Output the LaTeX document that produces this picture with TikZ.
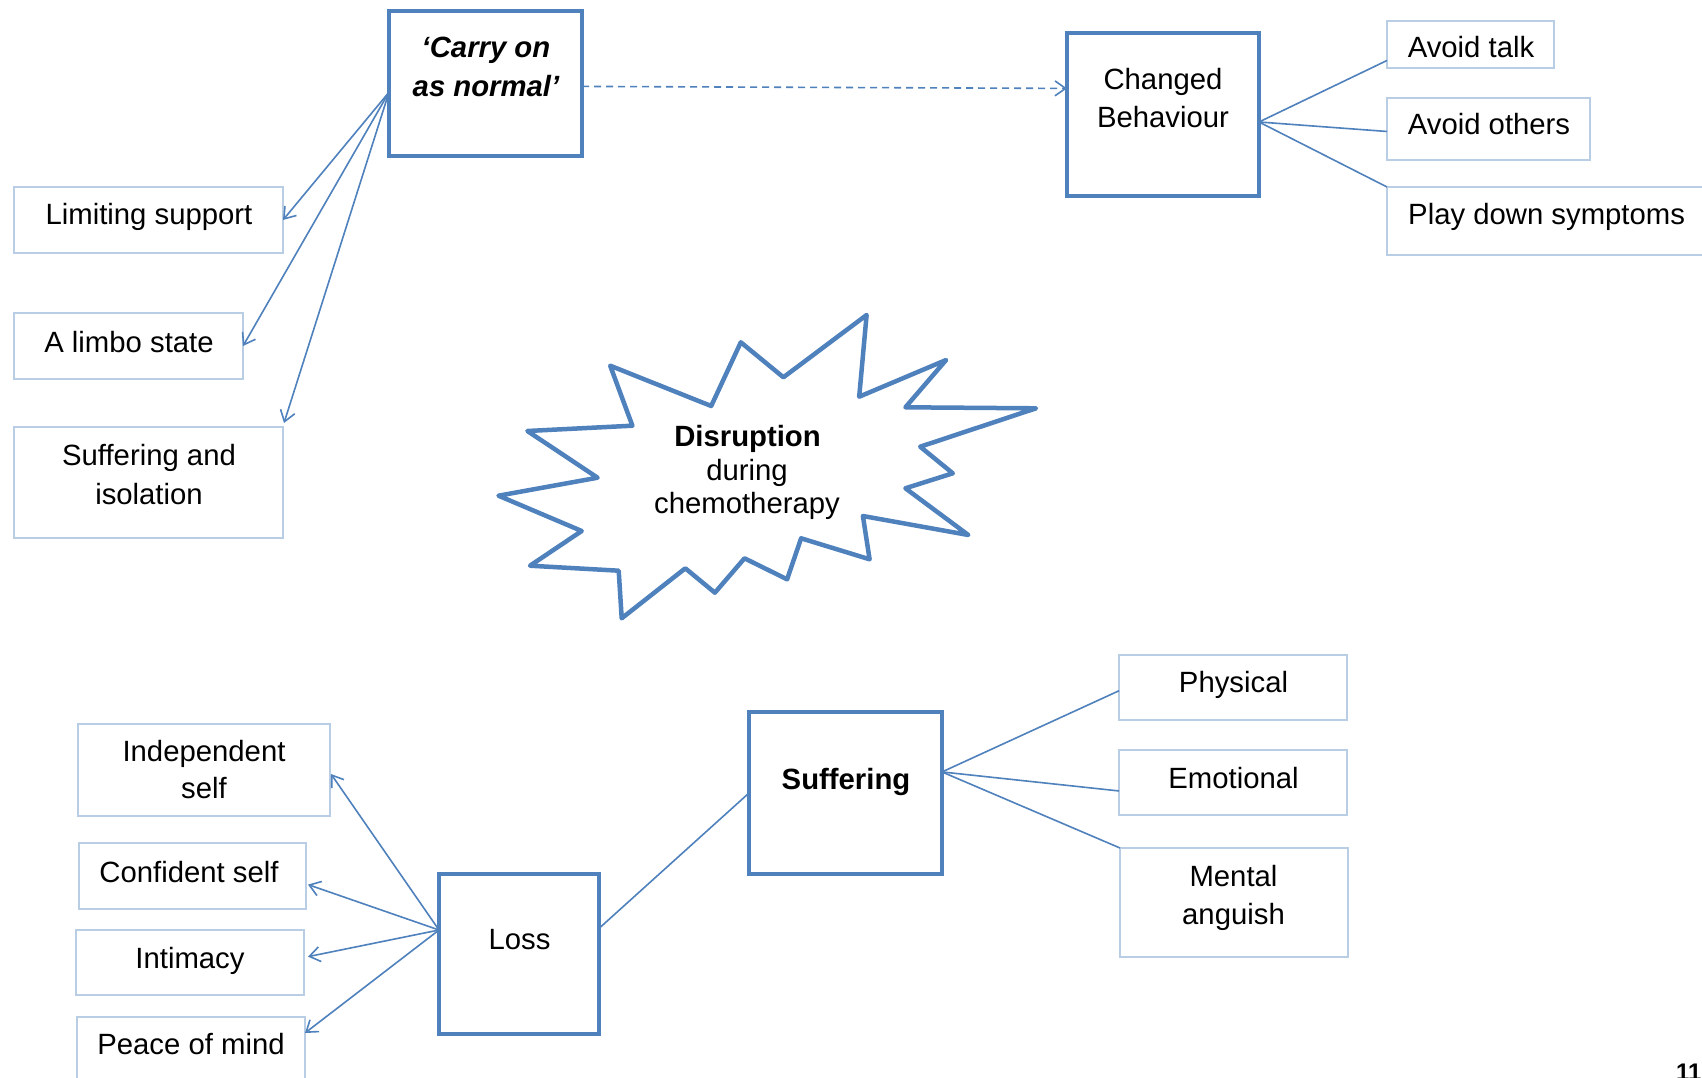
\documentclass[tikz,border=0pt]{standalone}
\usepackage{fontspec}
\setmainfont{Liberation Sans}
\usetikzlibrary{arrows.meta,calc}
\definecolor{mainblue}{HTML}{4F81BD}
\definecolor{lightblue}{HTML}{B9CDE5}
\begin{document}
\begin{tikzpicture}[x=1pt,y=-1pt,
  thickbox/.style={draw=mainblue, line width=4.5pt, rectangle, inner sep=0pt, outer sep=0pt, anchor=north west},
  thinbox/.style={draw=lightblue, line width=2pt, rectangle, inner sep=0pt, outer sep=0pt, anchor=north west},
  lbl/.style={font=\fontsize{29.3}{35}\selectfont, inner sep=0pt, anchor=base},
  conn/.style={draw=mainblue, line width=1.6pt},
  arr/.style={conn, -{Straight Barb[angle=70:13pt]}},
]
\useasboundingbox (0,0) rectangle (1702,1078);
\fill[white] (0,0) rectangle (1702,1078);
\clip (0,0) rectangle (1702,1078);

% ---------- top left ----------
\node[thickbox, minimum width=193pt, minimum height=145pt] (carry) at (389,11) {};
\node[lbl, font=\fontsize{29.3}{35}\selectfont\bfseries\itshape] (carryA) at (486,58) {‘Carry on};
\node[lbl, font=\fontsize{29.3}{35}\selectfont\bfseries\itshape] (carryB) at (486,97) {as normal’};

\node[thinbox, minimum width=269pt, minimum height=66pt] (limiting) at (14,187) {};
\node[lbl] (limitingT) at (149,225) {Limiting support};
\node[thinbox, minimum width=229pt, minimum height=66pt] (limbo) at (14,313) {};
\node[lbl] (limboT) at (129,352) {A limbo state};
\node[thinbox, minimum width=269pt, minimum height=111pt] (isolation) at (14,427) {};
\node[lbl] (isolationA) at (149,465) {Suffering and};
\node[lbl] (isolationB) at (149,504) {isolation};

\coordinate (carryL) at ($(carry.north west)!0.56!(carry.south west)$);
\draw[arr] (carryL) -- (limiting.east);
\draw[arr] (carryL) -- (limbo.east);
\draw[arr] (carryL) -- ($(isolation.north east)+(1,-4)$);

% ---------- top right ----------
\node[thickbox, minimum width=192pt, minimum height=163pt] (changed) at (1067,33) {};
\node[lbl] (changedA) at (1163,90) {Changed};
\node[lbl] (changedB) at (1163,128) {Behaviour};

\node[thinbox, minimum width=167pt, minimum height=47pt] (talk) at (1387,21) {};
\node[lbl] (talkT) at (1471,58) {Avoid talk};
\node[thinbox, minimum width=203pt, minimum height=62pt] (others) at (1387,98) {};
\node[lbl] (othersT) at (1489,135) {Avoid others};
\node[thinbox, minimum width=330pt, minimum height=68pt] (playdown) at (1387,187) {};
\node[lbl, anchor=base west] (playdownT) at (1408,224) {Play down symptoms};

\draw[conn, dashed, dash pattern=on 7pt off 5pt, -{Straight Barb[angle=70:13pt]}]
  ($(carry.north east)!0.52!(carry.south east)$) -- ($(changed.north west)!0.34!(changed.south west)$);

\coordinate (changedR) at ($(changed.north east)!0.546!(changed.south east)$);
\draw[conn] (changedR) -- ($(talk.north west)!0.84!(talk.south west)$);
\draw[conn] (changedR) -- ($(others.north west)!0.54!(others.south west)$);
\draw[conn] (changedR) -- (playdown.north west);

% ---------- starburst ----------
\draw[mainblue, line width=4.5pt, line join=round, fill=white]
  (866.6,315) -- (859.2,396.7) -- (946.1,360) -- (905.4,407.3) -- (1036,408.3)
  -- (920.2,446.7) -- (952.8,473.3) -- (905.4,488.3) -- (968.3,535) -- (862.9,516)
  -- (869.6,559.3) -- (801.1,538.3) -- (787.1,579.3) -- (744.5,558.3) -- (714.9,592.7)
  -- (685.3,568.3) -- (621.7,618.3) -- (618.7,570.7) -- (530,565.7) -- (581.7,531)
  -- (498.5,495.7) -- (597.6,477.7) -- (527.4,431) -- (632.4,425.7) -- (610.2,365.7)
  -- (711.2,406) -- (740.8,342.3) -- (783.4,377.3) -- cycle;
\node[lbl, font=\fontsize{29.3}{35}\selectfont\bfseries] (disA) at (747.5,446.5) {Disruption};
\node[lbl] (disB) at (747,480) {during};
\node[lbl] (disC) at (747,513) {chemotherapy};

% ---------- bottom left ----------
\node[thickbox, minimum width=160pt, minimum height=160pt] (loss) at (439,874) {};
\node[lbl] (lossT) at (519.5,949.5) {Loss};

\node[thinbox, minimum width=252pt, minimum height=92pt] (indep) at (78,724) {};
\node[lbl] (indepA) at (204,761) {Independent};
\node[lbl] (indepB) at (204,798.5) {self};
\node[thinbox, minimum width=227pt, minimum height=66pt] (confident) at (79,843) {};
\node[lbl] (confidentT) at (189,882) {Confident self};
\node[thinbox, minimum width=228pt, minimum height=65pt] (intimacy) at (76,930) {};
\node[lbl] (intimacyT) at (190,968) {Intimacy};
\node[thinbox, minimum width=228pt, minimum height=75pt] (peace) at (77,1017) {};
\node[lbl] (peaceT) at (191,1054.5) {Peace of mind};

\coordinate (lossL) at ($(loss.north west)!0.35!(loss.south west)$);
\draw[arr] (lossL) -- ($(indep.east)+(1,4)$);
\draw[arr] (lossL) -- ($(confident.north east)!0.63!(confident.south east)+(2,0)$);
\draw[arr] (lossL) -- ($(intimacy.north east)!0.41!(intimacy.south east)+(4,0)$);
\draw[arr] (lossL) -- ($(peace.north east)+(0,16)$);

% ---------- bottom right ----------
\node[thickbox, minimum width=193pt, minimum height=162pt] (suffering) at (749,712) {};
\node[lbl, font=\fontsize{29.3}{35}\selectfont\bfseries] (sufferingT) at (846,789.5) {Suffering};

\draw[conn] ($(loss.north east)!0.34!(loss.south east)$) -- (suffering.west);

\node[thinbox, minimum width=228pt, minimum height=65pt] (physical) at (1119,655) {};
\node[lbl] (physicalT) at (1233.5,692.5) {Physical};
\node[thinbox, minimum width=228pt, minimum height=65pt] (emotional) at (1119,750) {};
\node[lbl] (emotionalT) at (1233.5,788) {Emotional};
\node[thinbox, minimum width=228pt, minimum height=109pt] (mental) at (1120,848) {};
\node[lbl] (mentalA) at (1233.5,886) {Mental};
\node[lbl] (mentalB) at (1233.5,924.5) {anguish};

\coordinate (sufferingR) at ($(suffering.north east)!0.37!(suffering.south east)$);
\draw[conn] (sufferingR) -- ($(physical.north west)!0.55!(physical.south west)$);
\draw[conn] (sufferingR) -- ($(emotional.north west)!0.63!(emotional.south west)$);
\draw[conn] (sufferingR) -- (mental.north west);

% page number (cut off at the page edge, as in the reference)
\node[inner sep=0pt, anchor=base west, font=\fontsize{24}{28}\selectfont\bfseries] (pagenum) at (1676,1080) {11};
\end{tikzpicture}
\end{document}
